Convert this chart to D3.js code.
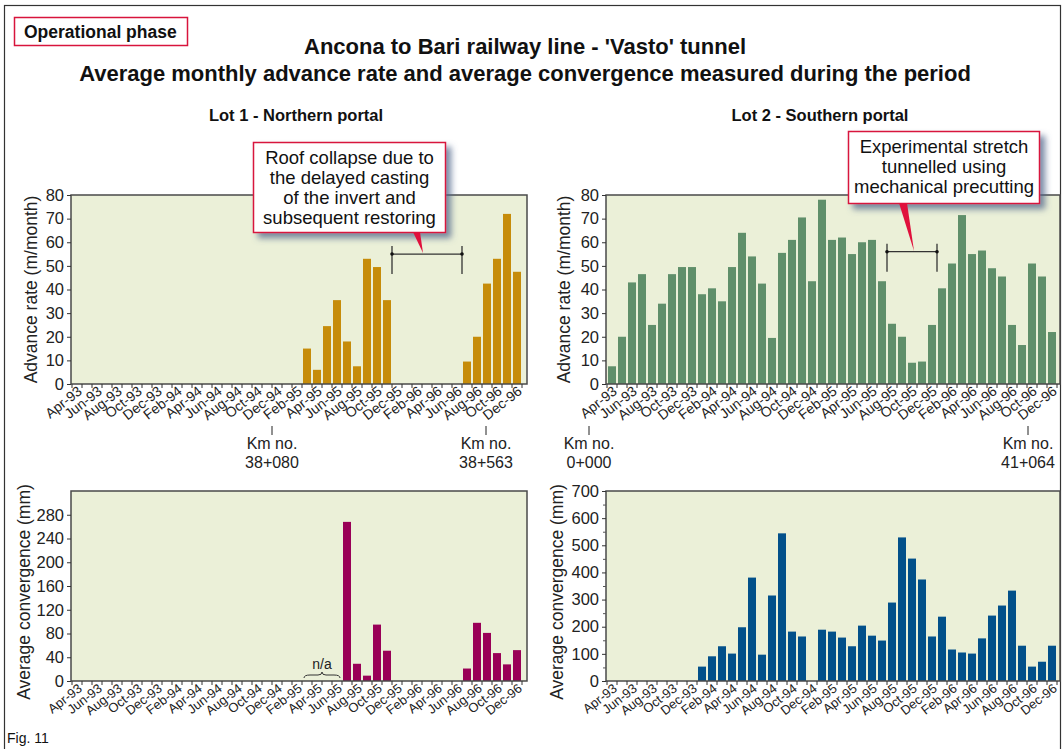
<!DOCTYPE html>
<html>
<head>
<meta charset="utf-8">
<script src="https://cdn.jsdelivr.net/npm/d3@7"></script>
<style>
  body { margin: 0; background: #fff; }
  svg { font-family: "Liberation Sans", Arial, sans-serif; }
</style>
</head>
<body>
<svg width="1063" height="749"></svg>
<script>
// months on the x axis (Apr-93 .. Dec-96)
var months = [
  "Apr-93","May-93","Jun-93","Jul-93","Aug-93","Sep-93","Oct-93","Nov-93","Dec-93",
  "Jan-94","Feb-94","Mar-94","Apr-94","May-94","Jun-94","Jul-94","Aug-94","Sep-94","Oct-94","Nov-94","Dec-94",
  "Jan-95","Feb-95","Mar-95","Apr-95","May-95","Jun-95","Jul-95","Aug-95","Sep-95","Oct-95","Nov-95","Dec-95",
  "Jan-96","Feb-96","Mar-96","Apr-96","May-96","Jun-96","Jul-96","Aug-96","Sep-96","Oct-96","Nov-96","Dec-96"
];

// advance rate (m/month)
var lot1Advance = [
  null,null,null,null,null,null,null,null,null,
  null,null,null,null,null,null,null,null,null,null,null,null,
  null,null,15,6,24.5,35.5,18,7.5,53,49.5,35.5,null,
  null,null,null,null,null,null,9.5,20,42.5,53,72,47.5
];
var lot2Advance = [
  7.5,20,43,46.5,25,34,46.5,49.5,49.5,
  38,40.5,35,49.5,64,54,42.5,19.5,55.5,61,70.5,43.5,
  78,61,62,55,60,61,43.5,25.5,20,9,9.5,25,
  40.5,51,71.5,55,56.5,49,45.5,25,16.5,51,45.5,22
];

// average convergence (mm)
var lot1Conv = [
  null,null,null,null,null,null,null,null,null,
  null,null,null,null,null,null,null,null,null,null,null,null,
  null,null,null,null,null,null,268,29,9,95,51,null,
  null,null,null,null,null,null,21,98,81,47,28,52
];
var lot2Conv = [
  null,null,null,null,null,null,null,null,null,
  53,91,128,101,198,381,97,315,544,182,164,null,
  189,182,160,128,204,167,149,289,529,451,374,164,
  237,116,105,101,157,241,278,333,130,53,71,130
];

var svg = d3.select("svg");

// drop shadow for the callout boxes
var defs = svg.append("defs");
var f = defs.append("filter").attr("id", "shadow").attr("x", "-20%").attr("y", "-20%").attr("width", "150%").attr("height", "150%");
f.append("feDropShadow").attr("dx", 5).attr("dy", 5).attr("stdDeviation", 3)
  .attr("flood-color", "#50668a").attr("flood-opacity", 0.75);

// outer frame
svg.append("rect").attr("x", 4.5).attr("y", 5.5).attr("width", 1056).attr("height", 760)
  .attr("fill", "none").attr("stroke", "#333").attr("stroke-width", 1.2);

// header
svg.append("rect").attr("x", 14.5).attr("y", 17.5).attr("width", 173).attr("height", 28)
  .attr("fill", "#fff").attr("stroke", "#d8143c").attr("stroke-width", 1.5);
svg.append("text").attr("x", 24).attr("y", 38).attr("font-size", 17.5).attr("font-weight", "bold")
  .attr("fill", "#111").text("Operational phase");

svg.append("text").attr("x", 525).attr("y", 54).attr("text-anchor", "middle")
  .attr("font-size", 22).attr("font-weight", "bold").attr("fill", "#111")
  .text("Ancona to Bari railway line - 'Vasto' tunnel");
svg.append("text").attr("x", 525).attr("y", 81).attr("text-anchor", "middle")
  .attr("font-size", 22).attr("font-weight", "bold").attr("fill", "#111")
  .text("Average monthly advance rate and average convergence measured during the period");

svg.append("text").attr("x", 296).attr("y", 121).attr("text-anchor", "middle")
  .attr("font-size", 16.5).attr("font-weight", "bold").attr("fill", "#111").text("Lot 1 - Northern portal");
svg.append("text").attr("x", 820).attr("y", 121).attr("text-anchor", "middle")
  .attr("font-size", 16.5).attr("font-weight", "bold").attr("fill", "#111").text("Lot 2 - Southern portal");

svg.append("text").attr("x", 7).attr("y", 743).attr("font-size", 14).attr("fill", "#111").text("Fig. 11");

function panel(p) {
  var g = svg.append("g").attr("transform", "translate(" + p.left + "," + p.top + ")");

  var x = d3.scaleBand().domain(months).range([1, 451]).paddingInner(0.2).paddingOuter(0.1);
  var y = d3.scaleLinear().domain(p.domain).range([p.height, 0]);
  var edge = function(i) { return x.range()[0] + x.step() * i; };

  g.append("rect").attr("width", p.width).attr("height", p.height).attr("fill", "#ebf0d8");

  var data = months.map(function(m, i) { return {m: m, v: p.values[i]}; })
    .filter(function(d) { return d.v != null; });

  g.selectAll(".bar").data(data).enter().append("rect")
    .attr("class", "bar")
    .attr("x", function(d) { return x(d.m); })
    .attr("width", x.bandwidth())
    .attr("y", function(d) { return y(d.v); })
    .attr("height", function(d) { return p.height - y(d.v); })
    .attr("fill", p.color);

  g.append("rect").attr("width", p.width).attr("height", p.height)
    .attr("fill", "none").attr("stroke", "#4a4a4a").attr("stroke-width", 1.5);

  // x ticks at each month boundary
  g.selectAll(".xt").data(d3.range(months.length + 1)).enter().append("line")
    .attr("x1", edge).attr("x2", edge)
    .attr("y1", p.height).attr("y2", p.height + 4)
    .attr("stroke", "#333");

  g.selectAll(".xl").data(months.filter(function(m, i) { return i % 2 === 0; })).enter().append("text")
    .attr("transform", function(m) {
      return "translate(" + (edge(months.indexOf(m) + 1) + 1) + "," + (p.height + 9) + ") rotate(-38)";
    })
    .attr("text-anchor", "end")
    .attr("font-size", p.xFont)
    .attr("fill", "#222")
    .text(function(m) { return m; });

  // y axis
  var ya = g.append("g").call(d3.axisLeft(y).tickValues(p.ticks).tickSize(4).tickPadding(3));
  ya.select(".domain").remove();
  ya.selectAll("text").attr("font-size", 16.5).attr("fill", "#222")
    .attr("font-family", "'Liberation Sans', Arial, sans-serif");
  ya.selectAll("line").attr("stroke", "#333");

  if (p.minor) {
    var ym = g.append("g").call(d3.axisLeft(y).tickValues(p.minor).tickSize(3).tickFormat(""));
    ym.select(".domain").remove();
    ym.selectAll("line").attr("stroke", "#555");
  }

  g.append("text")
    .attr("transform", "translate(" + p.labelX + "," + (p.height / 2 + p.labelDy) + ") rotate(-90)")
    .attr("text-anchor", "middle").attr("dy", "0.35em")
    .attr("font-size", 17.5).attr("fill", "#222")
    .text(p.label);

  return {g: g, x: x, y: y, edge: edge};
}

var p1 = panel({left: 71, top: 195, width: 456, height: 189, values: lot1Advance, color: "#c68c0a",
  domain: [0, 80], ticks: d3.range(0, 81, 10), label: "Advance rate (m/month)", labelX: -40, labelDy: 0, xFont: 14});
var p2 = panel({left: 606, top: 195, width: 454, height: 189, values: lot2Advance, color: "#5f8f6a",
  domain: [0, 80], ticks: d3.range(0, 81, 10), label: "Advance rate (m/month)", labelX: -42, labelDy: 0, xFont: 14});
var p3 = panel({left: 71, top: 491, width: 456, height: 190, values: lot1Conv, color: "#990057",
  domain: [0, 320], ticks: d3.range(0, 281, 40), label: "Average convergence (mm)", labelX: -47, labelDy: 6, xFont: 13});
var p4 = panel({left: 606, top: 491, width: 454, height: 190, values: lot2Conv, color: "#02508a",
  domain: [0, 700], ticks: d3.range(0, 701, 100), minor: d3.range(50, 700, 100),
  label: "Average convergence (mm)", labelX: -49, labelDy: 6, xFont: 13});

// Km markers below the advance-rate charts
function km(pn, pos, lines) {
  var xx = pn.edge(pos);
  pn.g.append("line").attr("x1", xx).attr("x2", xx).attr("y1", 231).attr("y2", 240).attr("stroke", "#222");
  lines.forEach(function(t, i) {
    pn.g.append("text").attr("x", xx).attr("y", 254 + i * 19).attr("text-anchor", "middle")
      .attr("font-size", 16).attr("fill", "#222").text(t);
  });
}
km(p1, 20, ["Km no.", "38+080"]);
km(p1, 41.4, ["Km no.", "38+563"]);
km(p2, -1.8, ["Km no.", "0+000"]);
km(p2, 42.1, ["Km no.", "41+064"]);

// brackets over the stretches
function bracket(pn, i0, i1, v) {
  var x0 = pn.edge(i0), x1 = pn.edge(i1), yy = pn.y(v);
  var b = pn.g.append("g").attr("stroke", "#333").attr("stroke-width", 1.3);
  b.append("line").attr("x1", x0).attr("x2", x1).attr("y1", yy).attr("y2", yy);
  [x0, x1].forEach(function(xx) {
    b.append("line").attr("x1", xx).attr("x2", xx).attr("y1", yy - 8).attr("y2", yy + 20);
    pn.g.append("circle").attr("cx", xx).attr("cy", yy).attr("r", 1.8).attr("fill", "#111");
  });
}
bracket(p1, 32, 39, 55);
bracket(p2, 28, 33, 56);

// callouts
function callout(box, tip, base, lines, lineH) {
  svg.append("rect").attr("x", box[0]).attr("y", box[1]).attr("width", box[2]).attr("height", box[3])
    .attr("fill", "#fff").attr("stroke", "#d8143c").attr("stroke-width", 1.5).attr("filter", "url(#shadow)");
  svg.append("path")
    .attr("d", "M" + base[0] + "," + base[1] + "L" + base[2] + "," + base[1] + "L" + tip[0] + "," + tip[1] + "Z")
    .attr("fill", "#e0103c");
  lines.forEach(function(t, i) {
    svg.append("text").attr("x", box[0] + box[2] / 2).attr("y", box[1] + 21 + i * lineH)
      .attr("text-anchor", "middle").attr("font-size", 18.5).attr("fill", "#111").text(t);
  });
}
callout([253.5, 142.5, 192, 90], [423, 253], [413, 232, 420],
  ["Roof collapse due to", "the delayed casting", "of the invert and", "subsequent restoring"], 20);
callout([848.5, 131.5, 191, 72], [914, 251], [899, 203, 907],
  ["Experimental stretch", "tunnelled using", "mechanical precutting"], 20);

// n/a brace in Lot 1 convergence chart
var bx0 = p3.edge(23) + 2, bx1 = p3.edge(27) - 2, bm = (bx0 + bx1) / 2, by = 186;
p3.g.append("path")
  .attr("d", "M" + bx0 + "," + (by + 1) + "Q" + bx0 + "," + (by - 2) + " " + (bx0 + 6) + "," + (by - 2) +
    "L" + (bm - 4) + "," + (by - 2) + "Q" + bm + "," + (by - 2) + " " + bm + "," + (by - 5) +
    "Q" + bm + "," + (by - 2) + " " + (bm + 4) + "," + (by - 2) +
    "L" + (bx1 - 6) + "," + (by - 2) + "Q" + bx1 + "," + (by - 2) + " " + bx1 + "," + (by + 1))
  .attr("fill", "none").attr("stroke", "#333").attr("stroke-width", 1);
p3.g.append("text").attr("x", bm).attr("y", by - 8).attr("text-anchor", "middle")
  .attr("font-size", 14).attr("fill", "#222").text("n/a");
</script>
</body>
</html>
